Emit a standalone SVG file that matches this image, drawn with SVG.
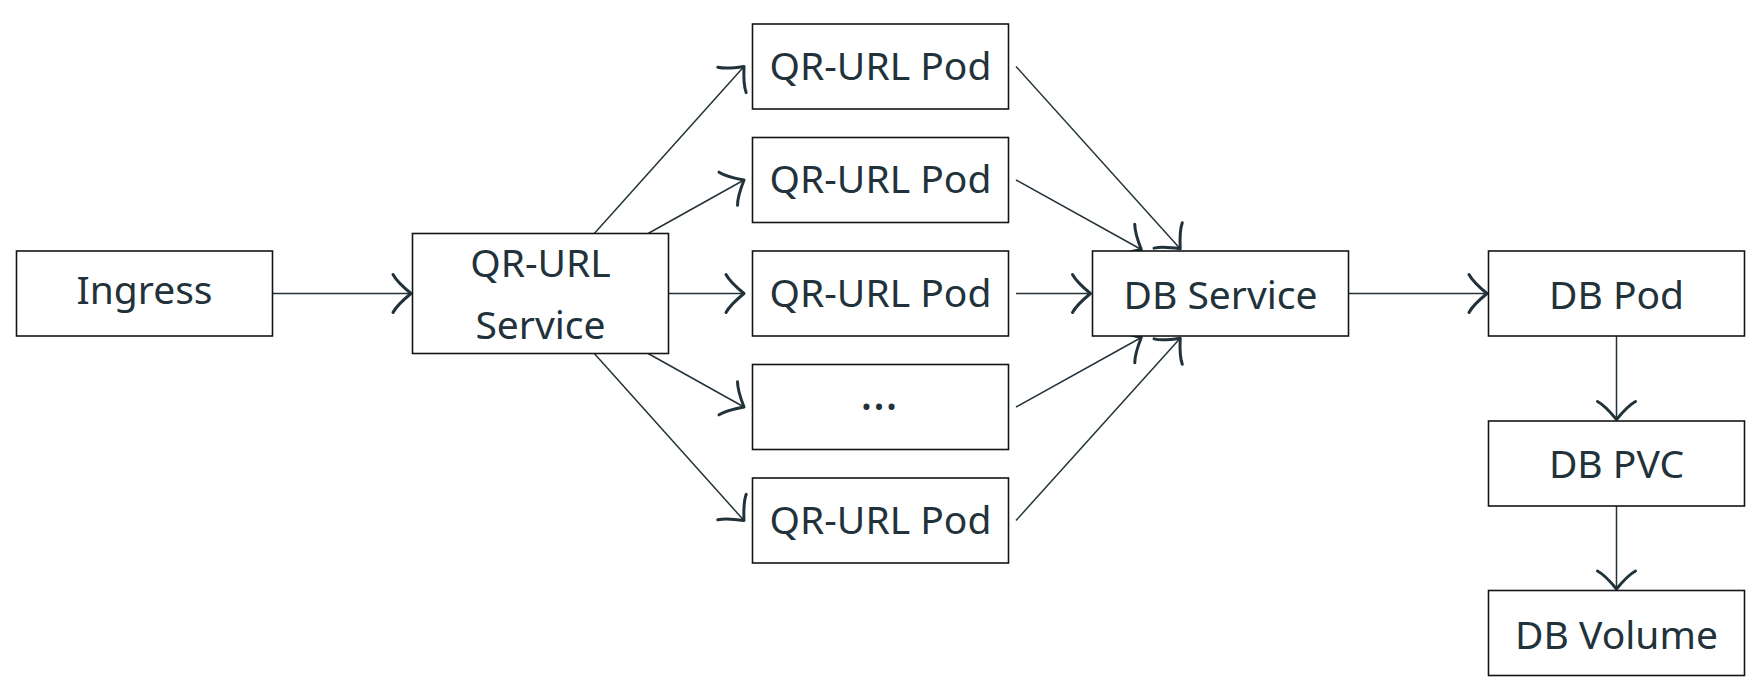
<svg xmlns="http://www.w3.org/2000/svg" width="1761" height="695" viewBox="0 0 1761 695">
<style>
.box{fill:#fff;stroke:#141414;stroke-width:1.6}
.lbl{font-family:"Noto Sans","Open Sans",sans-serif;font-size:39px;fill:#22323a;text-anchor:middle}
.edge{fill:none;stroke:#24333a;stroke-width:1.5}
</style>
<defs>
<marker id="ah" markerUnits="userSpaceOnUse" markerWidth="44" markerHeight="50" viewBox="-22 -25 44 50" refX="0" refY="0" orient="auto" overflow="visible">
<path d="M-18,-19 Q-14,-11.5 0,0 Q-14,11.5 -18,19" fill="none" stroke="#22323a" stroke-width="3" stroke-linecap="round" stroke-linejoin="round"/>
</marker>
</defs>
<rect width="1761" height="695" fill="#fff"/>
<g id="connectors">
<line class="edge" x1="272.5" y1="293.5" x2="411" y2="293.5" marker-end="url(#ah)"/>
<line class="edge" x1="594.3" y1="233.5" x2="744" y2="66.5" marker-end="url(#ah)"/>
<line class="edge" x1="648.1" y1="233.5" x2="744" y2="180" marker-end="url(#ah)"/>
<line class="edge" x1="668.5" y1="293.5" x2="744" y2="293.5" marker-end="url(#ah)"/>
<line class="edge" x1="648.1" y1="353.5" x2="744" y2="407" marker-end="url(#ah)"/>
<line class="edge" x1="594.3" y1="353.5" x2="744" y2="520.5" marker-end="url(#ah)"/>
<line class="edge" x1="1016" y1="66.5" x2="1180.2" y2="248.8" marker-end="url(#ah)"/>
<line class="edge" x1="1016" y1="180" x2="1141.3" y2="249.5" marker-end="url(#ah)"/>
<line class="edge" x1="1016" y1="293.5" x2="1090.5" y2="293.5" marker-end="url(#ah)"/>
<line class="edge" x1="1016" y1="407" x2="1141.3" y2="337.5" marker-end="url(#ah)"/>
<line class="edge" x1="1016" y1="520.5" x2="1180.2" y2="338.2" marker-end="url(#ah)"/>
<line class="edge" x1="1348.5" y1="293.5" x2="1487" y2="293.5" marker-end="url(#ah)"/>
<line class="edge" x1="1616.5" y1="336" x2="1616.5" y2="419.5" marker-end="url(#ah)"/>
<line class="edge" x1="1616.5" y1="506" x2="1616.5" y2="589" marker-end="url(#ah)"/>
</g>
<g id="ingress"><rect class="box" x="16.5" y="251" width="256" height="85"/><text class="lbl" x="144.5" y="303.5">Ingress</text></g>
<g id="qr-url-service"><rect class="box" x="412.5" y="233.5" width="256" height="120"/><text class="lbl" x="540.5" y="277">QR-URL</text><text class="lbl" x="540.5" y="339">Service</text></g>
<g id="pod1"><rect class="box" x="752.5" y="24" width="256" height="85"/><text class="lbl" x="880.5" y="79.5">QR-URL Pod</text></g>
<g id="pod2"><rect class="box" x="752.5" y="137.5" width="256" height="85"/><text class="lbl" x="880.5" y="193">QR-URL Pod</text></g>
<g id="pod3"><rect class="box" x="752.5" y="251" width="256" height="85"/><text class="lbl" x="880.5" y="306.5">QR-URL Pod</text></g>
<g id="pod-more"><rect class="box" x="752.5" y="364.5" width="256" height="85"/><text class="lbl" x="879" y="410" style="font-size:48px">…</text></g>
<g id="pod5"><rect class="box" x="752.5" y="478" width="256" height="85"/><text class="lbl" x="880.5" y="533.5">QR-URL Pod</text></g>
<g id="db-service"><rect class="box" x="1092.5" y="251" width="256" height="85"/><text class="lbl" x="1220.5" y="309">DB Service</text></g>
<g id="db-pod"><rect class="box" x="1488.5" y="251" width="256" height="85"/><text class="lbl" x="1616.5" y="309.3">DB Pod</text></g>
<g id="db-pvc"><rect class="box" x="1488.5" y="421" width="256" height="85"/><text class="lbl" x="1616.5" y="478.3">DB PVC</text></g>
<g id="db-volume"><rect class="box" x="1488.5" y="590.5" width="256" height="85"/><text class="lbl" x="1616.5" y="649">DB Volume</text></g>
</svg>
